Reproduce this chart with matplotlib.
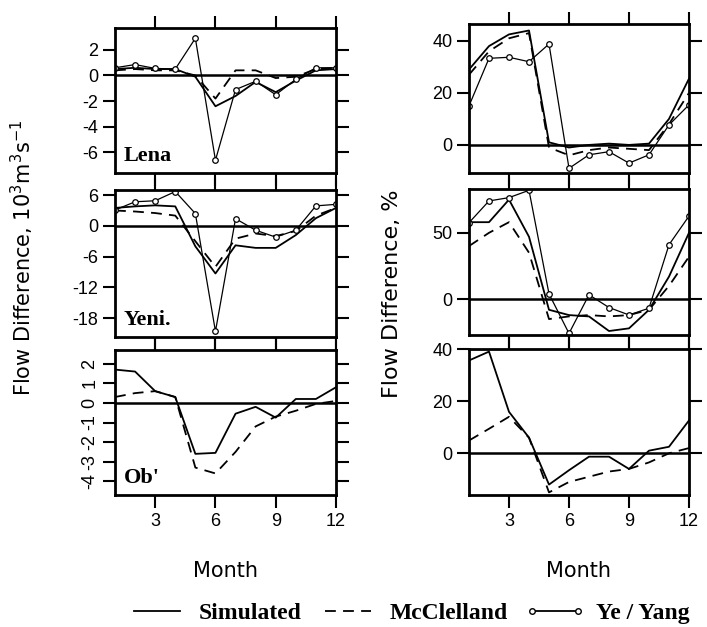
import matplotlib.pyplot as plt
import numpy as np
from matplotlib.lines import Line2D

# months on the x axis
months = np.arange(1, 13)
month_ticks = [3, 6, 9, 12]

# left column: flow difference, 10^3 m^3/s
lena_sim = [0.5, 0.6, 0.5, 0.5, -0.1, -2.4, -1.6, -0.5, -1.3, -0.4, 0.4, 0.5]
lena_mcc = [0.4, 0.5, 0.4, 0.4, 0.0, -1.8, 0.4, 0.4, -0.2, -0.1, 0.5, 0.6]
lena_ye = [0.6, 0.85, 0.55, 0.5, 2.9, -6.6, -1.1, -0.45, -1.5, -0.3, 0.6, 0.6]

yeni_sim = [3.5, 3.8, 4.0, 3.8, -4.0, -9.3, -3.8, -4.3, -4.3, -1.8, 1.5, 3.5]
yeni_mcc = [3.0, 2.8, 2.5, 2.0, -3.0, -8.0, -2.5, -1.5, -2.0, -1.0, 2.0, 3.5]
yeni_ye = [3.1, 4.7, 4.9, 6.7, 2.4, -20.6, 1.4, -0.85, -2.2, -0.85, 3.9, 4.2]

ob_sim = [1.7, 1.6, 0.6, 0.3, -2.6, -2.55, -0.55, -0.2, -0.75, 0.2, 0.2, 0.8]
ob_mcc = [0.3, 0.5, 0.6, 0.3, -3.3, -3.6, -2.5, -1.2, -0.7, -0.4, -0.05, 0.1]

# right column: flow difference, %
lena_pct_sim = [29, 38, 42.5, 44, 1, -1, 0, 0.5, 0, 0.5, 10, 25.5]
lena_pct_mcc = [27, 36, 41, 43, -1, -4, -2, -1, -1.5, -2, 8, 20]
lena_pct_ye = [15, 33.3, 33.7, 32, 38.8, -9, -3.8, -2.6, -7, -3.8, 7.7, 15.4]

yeni_pct_sim = [58, 58, 75, 47, -8, -12, -13, -24, -22, -8, 17, 50]
yeni_pct_mcc = [40, 50, 58, 35, -15, -13, -12, -13, -12, -8, 10, 32]
yeni_pct_ye = [57.6, 74, 76.5, 82, 4, -25.8, 3.3, -6.3, -11.9, -6.8, 41, 62.6]

ob_pct_sim = [35.6, 39, 15.9, 6, -12, -6.5, -1.3, -1.3, -6, 1, 2.5, 12.6]
ob_pct_mcc = [4.9, 9.4, 14, 6, -15, -11, -9, -7, -6, -3.5, 0, 2]

sans = 'Liberation Sans'
serif = 'Liberation Serif'
plt.rcParams['font.family'] = sans
plt.rcParams['axes.unicode_minus'] = False

fig = plt.figure(figsize=(7.07, 6.27), dpi=100)

W, H = 707.0, 627.0

def make_ax(x0, x1, y0, y1):
    return fig.add_axes([x0 / W, 1 - y1 / H, (x1 - x0) / W, (y1 - y0) / H])

def style(ax, ylim, yticks, bottom=False, rot=0):
    ax.set_xlim(1, 12)
    ax.set_ylim(*ylim)
    ax.set_xticks(month_ticks)
    ax.set_yticks(yticks)
    ax.axhline(0, color='black', lw=1.8, zorder=1)
    for s in ax.spines.values():
        s.set_linewidth(2)
    ax.tick_params(axis='both', direction='out', length=9, width=1.5,
                   top=True, right=True, labelsize=13, pad=3)
    ax.tick_params(axis='x', labelbottom=bottom, pad=4)
    if rot:
        for t in ax.get_yticklabels():
            t.set_rotation(rot)
            t.set_va('center')

def draw(ax, sim, mcc, ye=None):
    ax.plot(months, sim, color='black', lw=1.3)
    ax.plot(months, mcc, color='black', lw=1.3, dashes=(6, 4))
    if ye is not None:
        ax.plot(months, ye, color='black', lw=0.9, marker='o', ms=4,
                mfc='white', mec='black', mew=0.9)

def panel_label(ax, txt):
    ax.text(0.04, 0.05, txt, transform=ax.transAxes, fontsize=16,
            fontweight='bold', family=serif, ha='left', va='bottom')

# left column
ax1 = make_ax(115, 336, 28, 173)
draw(ax1, lena_sim, lena_mcc, lena_ye)
style(ax1, (-7.6, 3.7), [2, 0, -2, -4, -6])
panel_label(ax1, 'Lena')

ax2 = make_ax(115, 336, 190, 337)
draw(ax2, yeni_sim, yeni_mcc, yeni_ye)
style(ax2, (-21.7, 7.0), [6, 0, -6, -12, -18])
panel_label(ax2, 'Yeni.')

ax3 = make_ax(115, 336, 350, 495)
draw(ax3, ob_sim, ob_mcc)
style(ax3, (-4.7, 2.7), [2, 1, 0, -1, -2, -3, -4], bottom=True, rot=90)
panel_label(ax3, "Ob'")
ax3.set_xlabel('Month', fontsize=15, family='DejaVu Sans', labelpad=22)

# right column
ax4 = make_ax(469, 689, 24, 173)
draw(ax4, lena_pct_sim, lena_pct_mcc, lena_pct_ye)
style(ax4, (-10.8, 46.5), [40, 20, 0])

ax5 = make_ax(469, 689, 189, 335)
draw(ax5, yeni_pct_sim, yeni_pct_mcc, yeni_pct_ye)
style(ax5, (-27, 83), [50, 0])

ax6 = make_ax(469, 689, 349, 495)
draw(ax6, ob_pct_sim, ob_pct_mcc)
style(ax6, (-16, 40), [40, 20, 0], bottom=True)
ax6.set_xlabel('Month', fontsize=15, family='DejaVu Sans', labelpad=22)

# axis titles
fig.text(22 / W, 1 - 258 / H, 'Flow Difference, $\\mathregular{10^3m^3s^{-1}}$',
         rotation=90, ha='center', va='center', fontsize=15, family='DejaVu Sans')
fig.text(392 / W, 1 - 294 / H, 'Flow Difference, %',
         rotation=90, ha='center', va='center', fontsize=16, family='DejaVu Sans')

# legend along the bottom
handles = [
    Line2D([], [], color='black', lw=1.3),
    Line2D([], [], color='black', lw=1.3, dashes=(6, 4)),
    Line2D([], [], color='black', lw=1.3, marker='o', ms=4, mfc='white', mec='black'),
]
labels = ['Simulated', 'McClelland', 'Ye / Yang']
fig.legend(handles, labels, loc='center left', bbox_to_anchor=(127 / W, 1 - 613 / H),
           ncol=3, frameon=False, numpoints=2, handlelength=2.55, handletextpad=0.47,
           columnspacing=0.72, borderpad=0, borderaxespad=0,
           prop={'family': serif, 'weight': 'bold', 'size': 17})

fig.savefig('out.png', dpi=100)
